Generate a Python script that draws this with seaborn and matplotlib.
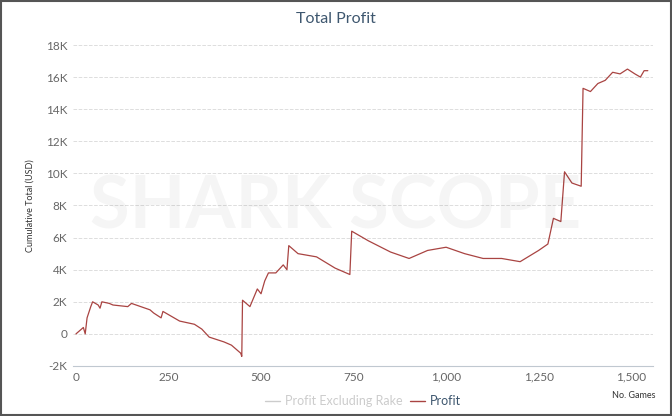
import numpy as np
import matplotlib
matplotlib.use('Agg')
import matplotlib.pyplot as plt
import seaborn as sns
from matplotlib.ticker import FuncFormatter

games = [0, 10, 20, 25, 30, 40, 45, 60, 65, 70, 90, 100, 140, 150, 200, 210, 230, 235,
         250, 280, 300, 320, 340, 360, 400, 420, 445, 448, 450, 470, 490, 500, 510, 520,
         540, 560, 570, 575, 600, 650, 700, 740, 745, 760, 790, 850, 900, 950, 1000,
         1050, 1100, 1150, 1200, 1250, 1275, 1290, 1310, 1320, 1340, 1365, 1370, 1390,
         1410, 1430, 1450, 1470, 1490, 1510, 1525, 1535, 1545]
profit = [0, 200, 400, 0, 1000, 1700, 2000, 1800, 1600, 2000, 1900, 1800, 1700, 1900,
          1500, 1300, 1000, 1400, 1200, 800, 700, 600, 300, -200, -500, -700, -1200,
          -1400, 2100, 1700, 2800, 2500, 3300, 3800, 3800, 4300, 4000, 5500, 5000, 4800,
          4100, 3700, 6400, 6200, 5800, 5100, 4700, 5200, 5400, 5000, 4700, 4700, 4500,
          5200, 5600, 7200, 7000, 10100, 9400, 9200, 15300, 15100, 15600, 15800, 16300,
          16200, 16500, 16200, 16000, 16400, 16400]

sns.set_style('white')
plt.rcParams['font.family'] = ['Lato', 'DejaVu Sans']

fig = plt.figure(figsize=(6.72, 4.16), dpi=100)
ax = fig.add_axes([73/672, 50/416, 580/672, 321/416])
sns.lineplot(x=games, y=profit, ax=ax, color='#a94442', linewidth=0.9)
ax.set_xlim(-8, 1559)
ax.set_ylim(-2000, 18000)
ax.set_yticks(range(-2000, 18001, 2000))
ax.set_xticks([0, 250, 500, 750, 1000, 1250, 1500])
ax.yaxis.set_major_formatter(FuncFormatter(lambda v, p: '0' if v == 0 else f'{int(v/1000)}K'))
ax.xaxis.set_major_formatter(FuncFormatter(lambda v, p: f'{int(v):,}'))
ax.grid(axis='y', color='#dddddd', linestyle='--', linewidth=0.7)
for s in ['top', 'right', 'left']:
    ax.spines[s].set_visible(False)
ax.spines['bottom'].set_color('#c0c8d0')
ax.tick_params(colors='#666666', labelsize=8.5, length=0, pad=4)
ax.set_ylabel('Cumulative Total (USD)', fontsize=6.5, color='#333333', labelpad=8)
ax.text(0.5, 0.5, 'SHARK SCOPE', transform=fig.transFigure, fontsize=52,
        fontweight='bold', color='#000000', alpha=0.04, ha='center', va='center')
fig.text(0.5, 0.945, 'Total Profit', ha='center', fontsize=11.5, color='#3e576f')
fig.text(655/672, 18/416, 'No. Games', ha='right', fontsize=6.5, color='#333333')
ax.plot([], [], color='#cccccc', lw=1, label='Profit Excluding Rake')
ax.plot([], [], color='#a94442', lw=1, label='Profit')
leg = ax.legend(loc='upper center', bbox_to_anchor=(0.5, -0.055), ncol=2, frameon=False,
                fontsize=9, handlelength=1.2, columnspacing=0.6, handletextpad=0.4)
leg.get_texts()[0].set_color('#cccccc')
leg.get_texts()[1].set_color('#3e576f')
fig.patches.append(plt.Rectangle((0.002, 0.003), 0.996, 0.994, transform=fig.transFigure,
                                 fill=False, edgecolor='#555555', linewidth=1.5))
fig.savefig('out.png', dpi=100)
